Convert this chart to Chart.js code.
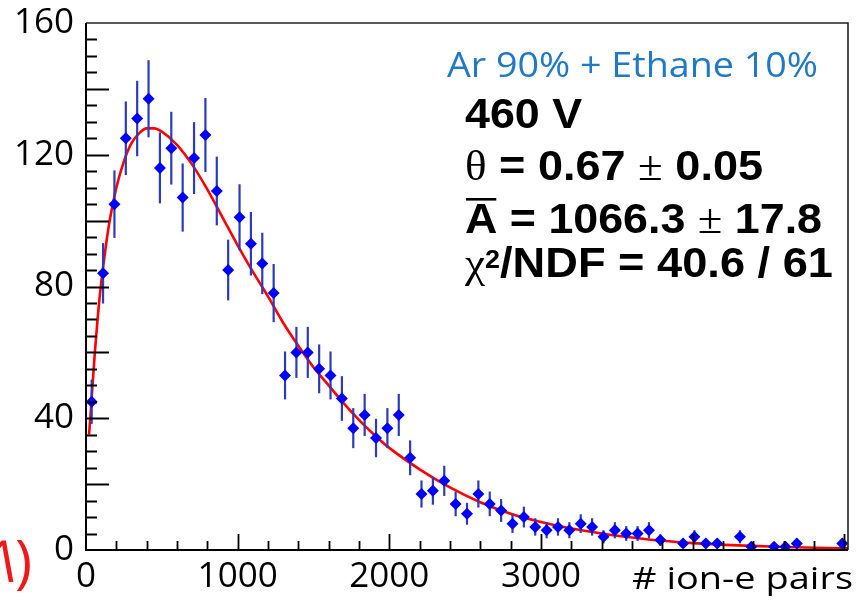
<!DOCTYPE html>
<html>
<head>
<meta charset="utf-8">
<title>Polya fit, Ar 90% + Ethane 10%</title>
<script src="https://cdn.jsdelivr.net/npm/chart.js@4.4.1/dist/chart.umd.min.js"></script>
<style>
  html, body { margin: 0; padding: 0; background: #fff; }
  #chart { display: block; }
</style>
</head>
<body>
<canvas id="chart" width="857" height="604"></canvas>
<script>
// Histogram of ion-e pairs, bins 75 wide starting at 0 (null = empty bin)
const binWidth = 75;
const counts = [
  45, 84, 105, 125, 131, 137, 116, 122, 107, 119,
  126, 109, 85, 101, 93, 87, 78, 53, 60, 60,
  55, 53, 46, 37, 41, 34, 37, 41, 28, 17,
  18, 21, 14, 11, 17, 14, 12, 8, 10, 7,
  6, 7, 6, 8, 7, 4, 6, 5, 5, 6,
  3, null, 2, 4, 2, 2, null, 4, 1, null,
  1, 1, 2, null, null, null, 2
];

// Fit curve, sampled along x
const fitX = [20, 30, 40, 60, 80, 100, 130, 160, 200, 250, 300, 350, 400, 450, 500,
  600, 700, 800, 900, 1000, 1100, 1200, 1300, 1400, 1500, 1600, 1700, 1800, 1900,
  2000, 2200, 2400, 2600, 2800, 3000, 3200, 3400, 3600, 3800, 4000, 4300, 4600, 5025];
const fitY = [35, 41, 48, 61, 72, 81, 92, 101, 110, 118, 123.5, 126.5, 128, 128, 127,
  123, 117, 109.5, 101, 92.5, 84.5, 77, 69, 62, 55.5, 50, 44.5, 39.5, 35,
  31, 24.5, 19, 14.5, 11, 8.5, 6.5, 5, 3.8, 2.8, 2.1, 1.4, 0.9, 0.5];

const xTickLabels = [0, 1000, 2000, 3000];
const yTickLabels = [0, 40, 80, 120, 160];

const histPoints = [];
counts.forEach((c, i) => {
  if (c !== null) histPoints.push({ x: binWidth * (i + 0.5), y: c });
});
const fitPoints = fitX.map((x, i) => ({ x: x, y: fitY[i] }));

// draw a row of text pieces, stretched sideways to a given width
function drawRuns(ctx, runs, x, y, width, color) {
  let natural = 0;
  runs.forEach(r => { ctx.font = r.font; natural += ctx.measureText(r.text).width; });
  ctx.save();
  ctx.translate(x, y);
  ctx.scale(width / natural, 1);
  ctx.fillStyle = color;
  ctx.textBaseline = 'alphabetic';
  ctx.textAlign = 'left';
  let cx = 0;
  runs.forEach(r => {
    ctx.font = r.font;
    const w = ctx.measureText(r.text).width;
    ctx.fillText(r.text, cx, r.dy || 0);
    if (r.overline) ctx.fillRect(cx + 1, r.overline, w - 2, 2.6);
    cx += w;
  });
  ctx.restore();
}

const BOLD = 'bold 42px "Liberation Sans"';
const SYM = '42px "Liberation Serif"';

// no extra room around the axes, the frame sits at fixed margins
function noPadding(s) {
  s.paddingTop = 0;
  s.paddingBottom = 0;
  s.paddingLeft = 0;
  s.paddingRight = 0;
}

// error bars under the markers
const errorBars = {
  id: 'errorBars',
  beforeDatasetDraw(chart, args) {
    if (args.index !== 0) return;
    const { ctx, scales: { x, y } } = chart;
    ctx.save();
    ctx.strokeStyle = '#2b3bbd';
    ctx.lineWidth = 2.2;
    histPoints.forEach(p => {
      const err = Math.sqrt(p.y);
      const px = x.getPixelForValue(p.x);
      ctx.beginPath();
      ctx.moveTo(px, y.getPixelForValue(Math.max(0, p.y - err)));
      ctx.lineTo(px, y.getPixelForValue(p.y + err));
      ctx.stroke();
    });
    ctx.restore();
  }
};

// frame, inside tick marks and the text block
const decorations = {
  id: 'decorations',
  afterDraw(chart) {
    const { ctx, chartArea: a, scales: { x, y } } = chart;
    ctx.save();
    ctx.strokeStyle = '#222';
    ctx.lineWidth = 1.6;
    ctx.beginPath();
    ctx.moveTo(a.left, a.top);
    ctx.lineTo(a.right, a.top);
    ctx.lineTo(a.right, a.bottom);
    ctx.stroke();
    ctx.strokeStyle = '#000';
    ctx.lineWidth = 2;
    ctx.beginPath();
    ctx.moveTo(a.left, a.top);
    ctx.lineTo(a.left, a.bottom);
    ctx.lineTo(a.right, a.bottom);
    ctx.stroke();

    ctx.lineWidth = 1.8;
    ctx.beginPath();
    for (let v = 5; v < 160; v += 5) {
      const py = Math.round(y.getPixelForValue(v)) + 0.5;
      ctx.moveTo(a.left, py);
      ctx.lineTo(a.left + (v % 20 === 0 ? 23 : 11), py);
    }
    for (let v = 200; v <= 5000; v += 200) {
      const px = Math.round(x.getPixelForValue(v)) + 0.5;
      ctx.moveTo(px, a.bottom);
      ctx.lineTo(px, a.bottom - (v % 1000 === 0 ? 16 : 9));
    }
    ctx.stroke();
    ctx.restore();

    drawRuns(ctx, [{ text: 'Ar 90% + Ethane 10%', font: '34px "Open Sans"' }], 447, 77, 371, '#1f78c8');
    drawRuns(ctx, [{ text: '460 V', font: BOLD }], 465, 128, 117, '#000');
    drawRuns(ctx, [
      { text: 'θ', font: SYM },
      { text: ' = 0.67 ', font: BOLD },
      { text: '±', font: SYM },
      { text: ' 0.05', font: BOLD }
    ], 465, 180, 298, '#000');
    drawRuns(ctx, [
      { text: 'A', font: BOLD, overline: -35 },
      { text: ' = 1066.3 ', font: BOLD },
      { text: '±', font: SYM },
      { text: ' 17.8', font: BOLD }
    ], 465, 233, 357, '#000');
    drawRuns(ctx, [
      { text: 'χ', font: SYM },
      { text: '2', font: 'bold 25px "Liberation Sans"', dy: -9 },
      { text: '/NDF = 40.6 / 61', font: BOLD }
    ], 465, 277, 368, '#000');

    drawRuns(ctx, [{ text: '# ion-e pairs', font: '31px "Open Sans"' }], 632, 589, 221, '#000');

    // red item number in the lower left corner
    ctx.save();
    ctx.fillStyle = '#f01818';
    ctx.font = '58px "Open Sans"';
    ctx.textBaseline = 'alphabetic';
    ctx.save();
    ctx.translate(-7, 582);
    ctx.transform(1, 0, 0.18, 1, 0, 0);
    ctx.fillText('1', 0, 0);
    ctx.restore();
    ctx.fillText(')', 15, 582);
    ctx.restore();
  }
};

new Chart(document.getElementById('chart'), {
  type: 'scatter',
  data: {
    datasets: [
      {
        label: 'data',
        data: histPoints,
        pointStyle: 'rectRot',
        pointRadius: 6,
        pointBackgroundColor: '#0000ff',
        pointBorderColor: '#0000ff',
        pointBorderWidth: 0,
        showLine: false
      },
      {
        label: 'fit',
        type: 'line',
        data: fitPoints,
        borderColor: '#ff0000',
        borderWidth: 2.6,
        pointRadius: 0,
        fill: false,
        cubicInterpolationMode: 'monotone'
      }
    ]
  },
  options: {
    responsive: false,
    devicePixelRatio: 1,
    animation: false,
    layout: { padding: { left: 0, top: 23, right: 9, bottom: 0 } },
    plugins: {
      legend: { display: false },
      tooltip: { enabled: false }
    },
    scales: {
      x: {
        type: 'linear',
        min: 0,
        max: 5025,
        afterBuildTicks: s => { s.ticks = xTickLabels.map(v => ({ value: v })); },
        afterFit: s => { s.height = 54; noPadding(s); },
        grid: { display: false, drawTicks: false },
        border: { display: false },
        ticks: {
          color: '#000',
          font: { family: 'Open Sans', size: 35 },
          padding: 6,
          maxRotation: 0,
          autoSkip: false,
          callback: v => String(v)
        }
      },
      y: {
        type: 'linear',
        min: 0,
        max: 160,
        afterBuildTicks: s => { s.ticks = yTickLabels.map(v => ({ value: v })); },
        afterFit: s => { s.width = 86; noPadding(s); },
        grid: { display: false, drawTicks: false },
        border: { display: false },
        ticks: {
          color: '#000',
          font: { family: 'Open Sans', size: 35 },
          padding: 12,
          callback: v => String(v)
        }
      }
    }
  },
  plugins: [errorBars, decorations]
});
</script>
</body>
</html>
